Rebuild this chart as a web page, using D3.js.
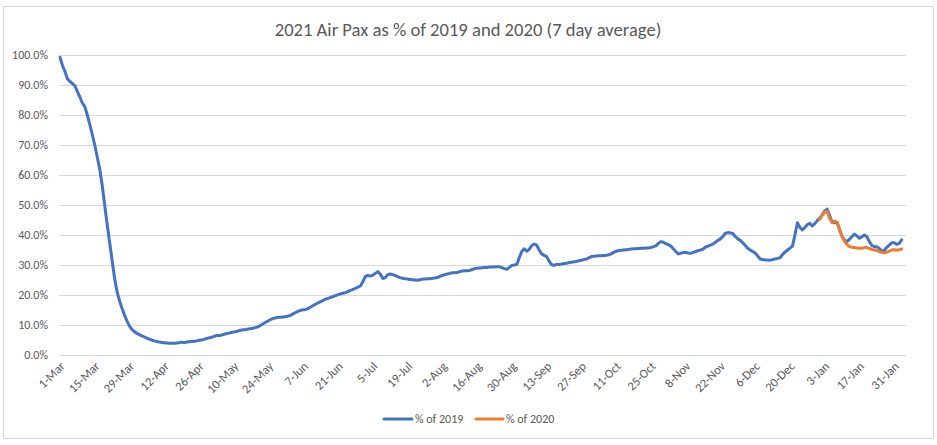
<!DOCTYPE html>
<html>
<head>
<meta charset="utf-8">
<script src="https://cdn.jsdelivr.net/npm/d3@7"></script>
<style>
  html, body { margin: 0; padding: 0; background: #fff; }
  svg { display: block; }
  text { font-family: Carlito, Calibri, Lato, "Open Sans", sans-serif; fill: #595959; }
</style>
</head>
<body>
<svg id="chart" width="937" height="445"></svg>
<script>
// ---------------- DATA ----------------
const chartTitle = "2021 Air Pax as % of 2019 and 2020 (7 day average)";
const seriesNames = ["% of 2019", "% of 2020"];
const seriesColors = ["#4472C4", "#ED7D31"];
const start2019 = "2020-03-01";   // first day of the "% of 2019" series
const start2020 = "2021-01-01";   // first day of the "% of 2020" series
const xTickLabels = ["1-Mar","15-Mar","29-Mar","12-Apr","26-Apr","10-May","24-May","7-Jun","21-Jun","5-Jul","19-Jul","2-Aug","16-Aug","30-Aug","13-Sep","27-Sep","11-Oct","25-Oct","8-Nov","22-Nov","6-Dec","20-Dec","3-Jan","17-Jan","31-Jan"];
const yTicks = [0,10,20,30,40,50,60,70,80,90,100];

// daily 7-day average, % of 2019 (1-Mar-2020 .. 3-Feb-2021)
const pct2019 = [
 99.2,96.5,94.5,92.0,91.2,90.5,89.7,87.8,86.0,84.0,
 82.8,80.0,76.8,73.5,70.0,66.0,62.0,56.5,50.0,43.5,
 37.5,31.5,25.5,21.0,18.0,15.5,13.3,11.3,9.6,8.5,
 7.7,7.2,6.8,6.4,6.0,5.6,5.3,5.0,4.7,4.5,
 4.3,4.2,4.1,4.0,3.9,3.9,3.9,4.0,4.1,4.3,
 4.1,4.3,4.4,4.5,4.6,4.7,4.9,5.0,5.2,5.5,
 5.7,5.9,6.2,6.5,6.5,6.6,6.9,7.1,7.3,7.5,
 7.7,7.8,8.1,8.3,8.4,8.5,8.7,8.8,9.0,9.2,
 9.5,10.0,10.5,11.0,11.4,11.9,12.2,12.4,12.6,12.6,
 12.7,12.8,13.0,13.3,13.8,14.2,14.6,14.9,15.1,15.2,
 15.5,16.0,16.5,17.0,17.4,17.8,18.2,18.6,18.9,19.2,
 19.5,19.8,20.1,20.4,20.6,20.8,21.2,21.5,21.9,22.2,
 22.6,23.0,24.5,26.2,26.5,26.3,26.6,27.2,27.8,27.0,
 25.5,25.8,26.8,27.0,26.8,26.5,26.1,25.8,25.6,25.4,
 25.3,25.2,25.1,25.0,24.9,25.1,25.3,25.3,25.4,25.4,
 25.6,25.7,25.8,26.2,26.5,26.8,27.0,27.2,27.4,27.4,
 27.5,27.8,28.0,28.1,28.1,28.2,28.5,28.8,28.9,29.0,
 29.1,29.2,29.2,29.3,29.3,29.3,29.4,29.4,29.1,28.8,
 28.6,29.2,29.9,30.0,30.2,32.5,34.5,35.4,34.6,35.2,
 36.5,37.0,36.6,35.0,33.7,33.2,32.8,31.3,30.1,29.9,
 30.2,30.2,30.3,30.5,30.6,30.8,30.9,31.1,31.2,31.4,
 31.6,31.8,32.0,32.4,32.8,32.9,33.0,33.1,33.1,33.2,
 33.2,33.4,33.7,34.2,34.6,34.8,34.9,35.0,35.1,35.2,
 35.3,35.4,35.4,35.5,35.6,35.6,35.7,35.7,35.8,36.1,
 36.4,37.2,37.8,37.6,37.1,36.8,36.3,35.4,34.5,33.7,
 33.9,34.2,34.2,34.0,33.9,34.2,34.5,34.8,35.0,35.3,
 36.0,36.3,36.6,37.0,37.6,38.2,38.7,39.5,40.6,40.8,
 40.7,40.5,39.5,38.7,38.2,37.4,36.5,35.6,35.0,34.5,
 34.0,33.0,32.0,31.8,31.7,31.7,31.6,31.8,32.0,32.2,
 32.4,33.5,34.3,35.0,35.6,36.3,40.0,44.1,42.5,41.7,
 42.5,43.5,43.9,43.0,43.8,44.8,45.6,46.7,48.0,48.6,
 46.5,44.2,44.1,44.2,41.8,39.5,38.3,37.8,38.6,39.5,
 40.3,39.6,38.9,39.4,40.0,39.4,37.8,36.5,36.1,36.1,
 35.5,34.6,34.9,35.9,36.6,37.4,37.4,36.9,37.2,38.4
];

// daily 7-day average, % of 2020 (1-Jan-2021 .. 3-Feb-2021)
const pct2020 = [
 45.3,46.6,47.6,47.8,45.5,44.2,44.6,44.2,41.5,39.5,
 37.9,36.8,36.1,35.9,35.8,35.7,35.6,35.6,35.8,35.8,
 35.5,35.2,35.0,34.8,34.5,34.2,34.1,34.3,34.6,35.0,
 35.1,34.9,35.1,35.3
];

// ---------------- CHART ----------------
const svg = d3.select("#chart");
const parse = d3.timeParse("%Y-%m-%d");
const s2019 = parse(start2019), s2020 = parse(start2020);

const toPoints = (arr, s) => arr.map((v, i) => ({ date: d3.timeDay.offset(s, i), value: v }));
const data2019 = toPoints(pct2019, s2019);
const data2020 = toPoints(pct2020, s2020);

// outer chart border
svg.append("rect").attr("x", 3.5).attr("y", 6.5).attr("width", 930).attr("height", 432)
  .attr("fill", "#fff").attr("stroke", "#d9d9d9").attr("stroke-width", 1);

const plotLeft = 59, plotRight = 906, plotTop = 55, plotBottom = 355;

const x = d3.scaleTime()
  .domain([s2019, d3.timeDay.offset(s2019, 341.5)])
  .range([60, 60 + 341.5 * 2.4792]);
const y = d3.scaleLinear().domain([0, 100]).range([plotBottom, plotTop]);

// title
svg.append("text").attr("x", 468).attr("y", 36).attr("text-anchor", "middle")
  .style("font-size", "18.6px").text(chartTitle);

// gridlines + y axis labels via d3 axis
const yAxis = d3.axisLeft(y).tickValues(yTicks)
  .tickSize(-(plotRight - plotLeft)).tickPadding(11)
  .tickFormat(d => d3.format(".1f")(d) + "%");
const gy = svg.append("g").attr("transform", `translate(${plotLeft},0)`).call(yAxis);
gy.select(".domain").remove();
gy.selectAll(".tick line").attr("stroke", "#d9d9d9").attr("stroke-width", 1)
  .attr("shape-rendering", "crispEdges");
gy.selectAll(".tick text").style("font-size", "12px").attr("fill", "#595959")
  .attr("x", 48 - plotLeft);

// x axis labels
const parseTick = (lbl) => {
  const d = d3.timeParse("%d-%b-%Y")(lbl + "-2020");
  return d < s2019 ? d3.timeParse("%d-%b-%Y")(lbl + "-2021") : d;
};
const xAxis = d3.axisBottom(x).tickValues(xTickLabels.map(parseTick))
  .tickSize(0).tickFormat((d, i) => xTickLabels[i]);
const gx = svg.append("g").attr("transform", `translate(0,${plotBottom})`).call(xAxis);
gx.select(".domain").remove();
gx.selectAll(".tick text")
  .style("font-size", "12.5px").attr("fill", "#595959")
  .attr("text-anchor", "end")
  .attr("y", 0).attr("dy", 0)
  .attr("transform", "translate(5,12) rotate(-45)");

// lines
const line = d3.line().x(d => x(d.date)).y(d => y(d.value));
[data2019, data2020].forEach((d, i) => {
  svg.append("path").datum(d).attr("fill", "none")
    .attr("stroke", seriesColors[i]).attr("stroke-width", 3)
    .attr("stroke-linejoin", "round").attr("stroke-linecap", "round")
    .attr("d", line);
});

// legend
const legend = [{ x1: 384, x2: 412, tx: 415 }, { x1: 476, x2: 503, tx: 506 }];
legend.forEach((l, i) => {
  svg.append("line").attr("x1", l.x1).attr("x2", l.x2).attr("y1", 419).attr("y2", 419)
    .attr("stroke", seriesColors[i]).attr("stroke-width", 3).attr("stroke-linecap", "round");
  svg.append("text").attr("x", l.tx).attr("y", 423).style("font-size", "12px").text(seriesNames[i]);
});
</script>
</body>
</html>
